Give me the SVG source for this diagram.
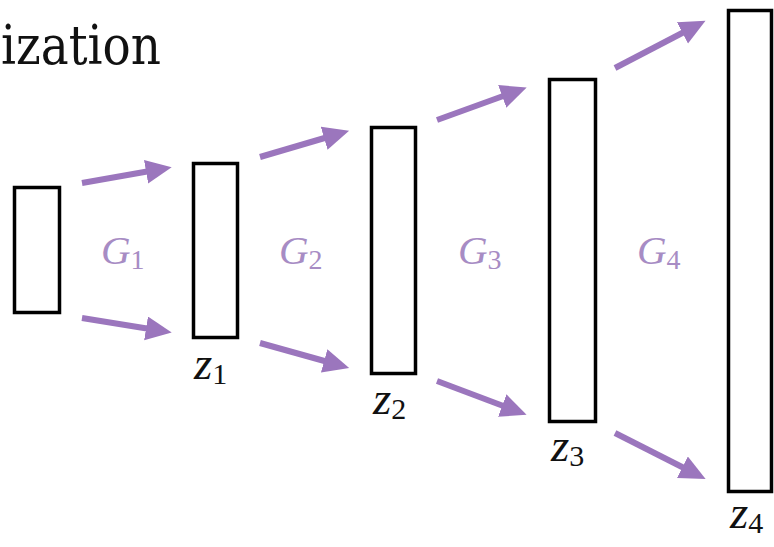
<svg xmlns="http://www.w3.org/2000/svg" width="774" height="547" viewBox="0 0 774 547">
<style>
.box{fill:#fff;stroke:#000;stroke-width:3.5}
.arr{stroke:#9b76bd;stroke-width:6;fill:none;marker-end:url(#ah)}
.g{font-style:italic;font-size:41px;fill:#a78cc4}
.gs{font-style:normal;font-size:28px}
.z{font-style:italic;font-size:47px;fill:#111}
.zs{font-style:normal;font-size:30px}
.t{font-size:55px;fill:#111}
</style>
<defs>
<marker id="ah" markerUnits="userSpaceOnUse" markerWidth="30" markerHeight="26" refX="4" refY="12" orient="auto">
<path d="M0,0 L26,12 L0,24 Z" fill="#9b76bd"/>
</marker>
</defs>
<rect width="774" height="547" fill="#fff"/>
<text class="t" font-family="DejaVu Serif, serif" x="1" y="64" textLength="160" lengthAdjust="spacingAndGlyphs">ization</text>
<g id="x0"><rect class="box" x="14.5" y="187.5" width="45" height="125"/></g>
<g font-family="Liberation Serif, DejaVu Serif, serif">
<g id="z1"><rect class="box" x="193.5" y="163.5" width="44" height="174"/>
<text class="z" x="194" y="379">z<tspan class="zs" dy="5">1</tspan></text></g>
<g id="z2"><rect class="box" x="371.5" y="127.5" width="44" height="246"/>
<text class="z" x="373" y="414">z<tspan class="zs" dy="5">2</tspan></text></g>
<g id="z3"><rect class="box" x="549.5" y="79.5" width="46" height="342"/>
<text class="z" x="551" y="461">z<tspan class="zs" dy="5">3</tspan></text></g>
<g id="z4"><rect class="box" x="728.5" y="10.5" width="43" height="481"/>
<text class="z" x="730" y="528">z<tspan class="zs" dy="5">4</tspan></text></g>
<g id="labels">
<text class="g" x="101" y="264">G<tspan class="gs" dy="5">1</tspan></text>
<text class="g" x="279" y="264">G<tspan class="gs" dy="5">2</tspan></text>
<text class="g" x="458" y="264">G<tspan class="gs" dy="5">3</tspan></text>
<text class="g" x="637" y="264">G<tspan class="gs" dy="5">4</tspan></text>
</g>
</g>
<g id="connectors">
<line class="arr" x1="82" y1="183" x2="150" y2="171"/>
<line class="arr" x1="82" y1="318" x2="150" y2="329"/>
<line class="arr" x1="260" y1="157" x2="328" y2="137"/>
<line class="arr" x1="260" y1="343" x2="328" y2="362"/>
<line class="arr" x1="437" y1="120" x2="506" y2="95"/>
<line class="arr" x1="437" y1="381" x2="506" y2="407"/>
<line class="arr" x1="615" y1="68" x2="686" y2="31"/>
<line class="arr" x1="615" y1="433" x2="686" y2="469"/>
</g>
</svg>
